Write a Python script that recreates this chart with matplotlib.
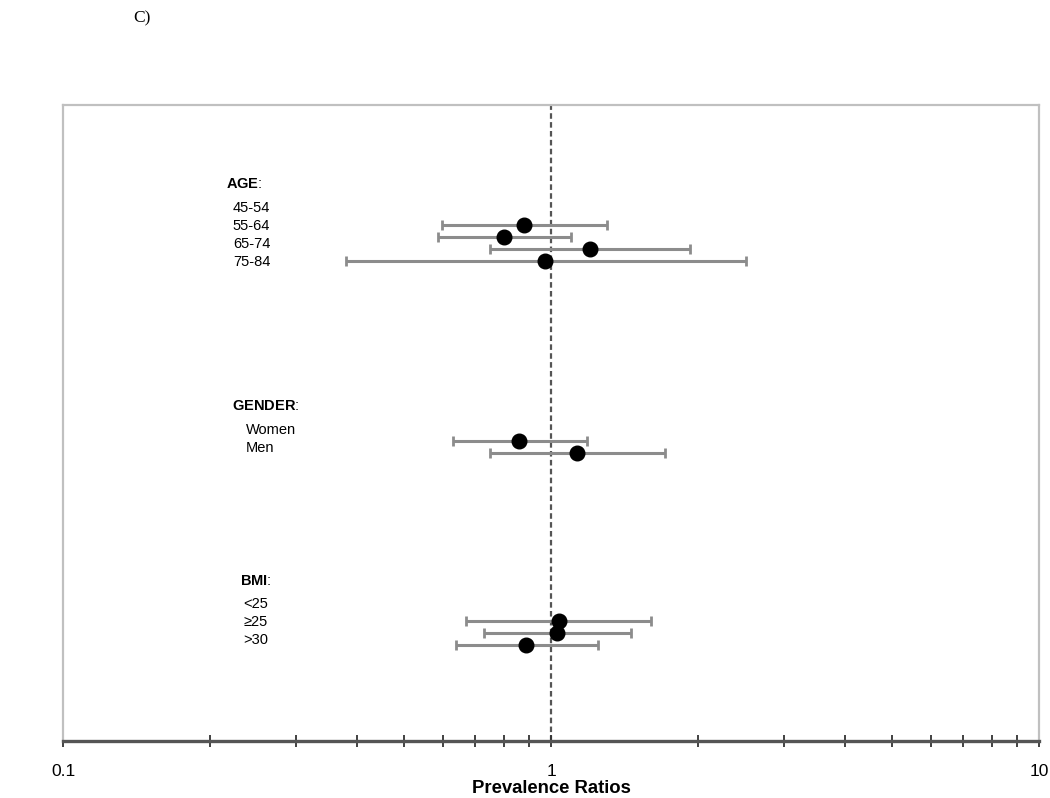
import matplotlib
matplotlib.use("Agg")
import matplotlib.pyplot as plt
from matplotlib.ticker import LogLocator, NullFormatter, FixedLocator, FixedFormatter

plt.rcParams["mathtext.fontset"] = "custom"
plt.rcParams["mathtext.rm"] = "Liberation Sans"
plt.rcParams["mathtext.bf"] = "Liberation Sans:bold"

# ---- data ----
groups = ["AGE", "GENDER", "BMI"]
age_labels = ["45-54", "55-64", "65-74", "75-84"]
gender_labels = ["Women", "Men"]
bmi_labels = ["<25", "\u226525", ">30"]

age_pr = [0.880, 0.801, 1.202, 0.972]
age_lo = [0.598, 0.587, 0.750, 0.380]
age_hi = [1.302, 1.099, 1.927, 2.510]

gender_pr = [0.860, 1.130]
gender_lo = [0.630, 0.750]
gender_hi = [1.185, 1.713]

bmi_pr = [1.038, 1.029, 0.889]
bmi_lo = [0.670, 0.729, 0.639]
bmi_hi = [1.603, 1.458, 1.248]

x_ticks = [0.1, 1, 10]
x_tick_labels = ["0.1", "1", "10"]
x_label = "Prevalence Ratios"
panel_label = "C)"

# ---- layout ----
fig = plt.figure(figsize=(10.5, 7.98), dpi=100)
ax = fig.add_axes([63 / 1050, 57 / 798, 976 / 1050, 636 / 798])

group_data = [
    (age_labels, age_pr, age_lo, age_hi),
    (gender_labels, gender_pr, gender_lo, gender_hi),
    (bmi_labels, bmi_pr, bmi_lo, bmi_hi),
]
group_base = [10.0, 28.0, 43.0]
header_off = [-3.4, -2.9, -3.3]
label_first = [-1.4, -0.9, -1.4]
label_step = 1.5
header_x = [0.167, 0.173, 0.181]
label_x = [0.174, 0.187, 0.185]
fs = 10.5

err_color = "#8c8c8c"
for g, (labels, pr, lo, hi) in enumerate(group_data):
    ys = [group_base[g] + i for i in range(len(pr))]
    xerr = [[p - l for p, l in zip(pr, lo)], [h - p for p, h in zip(pr, hi)]]
    ax.errorbar(pr, ys, xerr=xerr, fmt="o", color="black", markersize=10.5,
                ecolor=err_color, elinewidth=2.2, capsize=3.5, capthick=2.0,
                zorder=3)
    ax.text(header_x[g], group_base[g] + header_off[g],
            r"$\mathbf{" + groups[g] + r"}$:",
            transform=ax.get_yaxis_transform(), fontsize=fs,
            family="Liberation Sans", va="center", ha="left")
    for i, lab in enumerate(labels):
        ax.text(label_x[g], group_base[g] + label_first[g] + i * label_step, lab,
                transform=ax.get_yaxis_transform(), fontsize=fs,
                family="Liberation Sans", va="center", ha="left")

ax.axvline(1, color="#555555", linestyle=(0, (2.5, 1.5)), linewidth=1.6, zorder=1)

ax.set_xscale("log")
ax.set_xlim(0.1, 10)
ax.set_ylim(53, 0)
ax.set_yticks([])

ax.xaxis.set_major_locator(FixedLocator(x_ticks))
ax.xaxis.set_major_formatter(FixedFormatter(x_tick_labels))
ax.xaxis.set_minor_locator(LogLocator(base=10, subs=range(2, 10)))
ax.xaxis.set_minor_formatter(NullFormatter())
ax.tick_params(axis="x", which="both", direction="inout", length=8, width=1.3,
               color="#333333", pad=12.5)
ax.tick_params(axis="x", which="major", labelsize=12.5)
for lab in ax.get_xticklabels():
    lab.set_family("Liberation Sans")

for s in ["top", "left", "right"]:
    ax.spines[s].set_color("#c0c0c0")
    ax.spines[s].set_linewidth(1.6)
ax.spines["bottom"].set_color("#555555")
ax.spines["bottom"].set_linewidth(2.4)

ax.set_xlabel(x_label, fontsize=13.3, fontweight="bold", family="Liberation Sans",
              labelpad=0.5)

fig.text(133 / 1050, 1 - 18 / 798, panel_label, fontsize=12.5,
         family="Liberation Serif", va="center", ha="left")

fig.savefig("out.png", dpi=100)
